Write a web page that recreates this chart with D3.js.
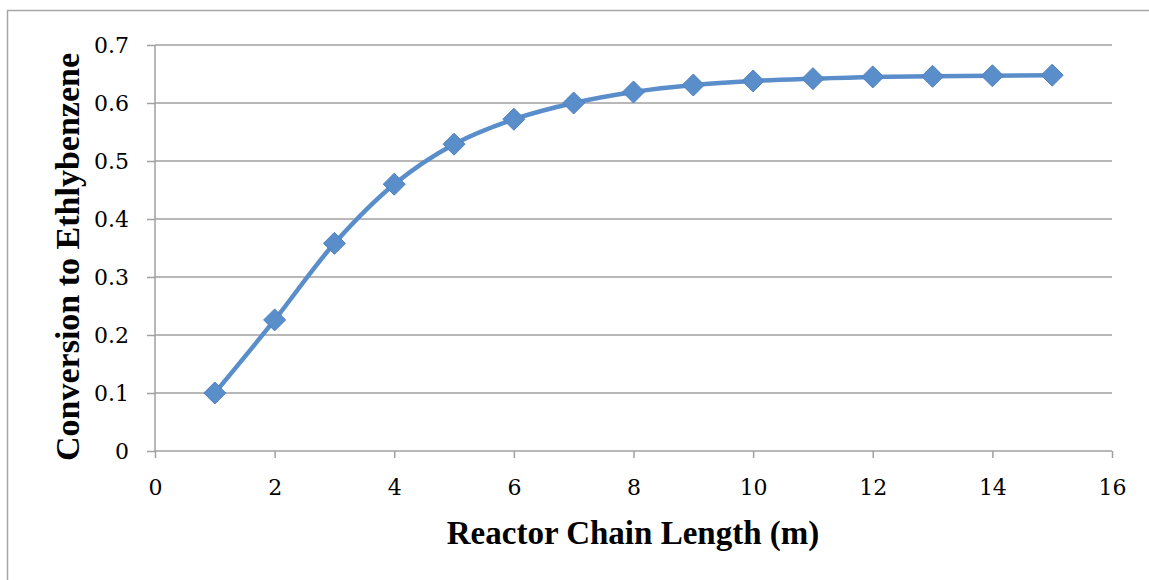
<!DOCTYPE html>
<html>
<head>
<meta charset="utf-8">
<script src="https://cdn.jsdelivr.net/npm/d3@7"></script>
<style>
  body { margin: 0; background: #fff; }
  text { font-family: "Liberation Serif", "DejaVu Serif", serif; }
  .tick text { font-family: "DejaVu Serif", serif; }
</style>
</head>
<body>
<div id="chart"></div>
<script>
"use strict";

// chain length (m)
var lengths = [1, 2, 3, 4, 5, 6, 7, 8, 9, 10, 11, 12, 13, 14, 15];
// conversion to ethylbenzene
var conversion = [0.100, 0.226, 0.358, 0.460, 0.529, 0.572, 0.600, 0.619, 0.631, 0.638, 0.642, 0.645, 0.646, 0.647, 0.648];
var xTicks = [0, 2, 4, 6, 8, 10, 12, 14, 16];
var yTicks = [0, 0.1, 0.2, 0.3, 0.4, 0.5, 0.6, 0.7];

var W = 1149, H = 580;
var margin = {top: 45, right: 37, bottom: 129, left: 155};
var w = W - margin.left - margin.right;
var h = H - margin.top - margin.bottom;

var svg = d3.select("#chart")
    .append("svg")
    .attr("width", W)
    .attr("height", H);

// outer chart border
svg.append("rect")
    .attr("x", 7.5)
    .attr("y", 10.5)
    .attr("width", W + 20)
    .attr("height", H + 20)
    .attr("fill", "none")
    .attr("stroke", "#a6a6a6")
    .attr("stroke-width", 1.5);

var g = svg.append("g")
    .attr("transform", "translate(" + margin.left + "," + margin.top + ")");

var x = d3.scaleLinear().domain([0, 16]).range([0, w]);
var y = d3.scaleLinear().domain([0, 0.7]).range([h, 0]);

// gridlines
g.selectAll("line.grid")
    .data(yTicks.slice(1))
    .enter()
    .append("line")
    .attr("class", "grid")
    .attr("x1", 0)
    .attr("x2", w)
    .attr("y1", function(d) { return y(d); })
    .attr("y2", function(d) { return y(d); })
    .attr("stroke", "#a0a0a0")
    .attr("stroke-width", 1.5);

// y axis
var yAxis = g.append("g")
    .call(d3.axisLeft(y).tickValues(yTicks).tickSize(8).tickPadding(18)
        .tickFormat(function(d) { return d === 0 ? "0" : d3.format(".1f")(d); }));
yAxis.select(".domain").attr("stroke", "#a0a0a0").attr("stroke-width", 1.5)
    .attr("d", "M0," + h + "V0");
yAxis.selectAll(".tick line").attr("stroke", "#a0a0a0").attr("stroke-width", 1.5);
yAxis.selectAll("text").style("font-size", "22px").attr("fill", "#000");

// x axis
var xAxis = g.append("g")
    .attr("transform", "translate(0," + h + ")")
    .call(d3.axisBottom(x).tickValues(xTicks).tickSize(7).tickPadding(21));
xAxis.select(".domain").attr("stroke", "#a0a0a0").attr("stroke-width", 1.5)
    .attr("d", "M0,0H" + w);
xAxis.selectAll(".tick line").attr("stroke", "#a0a0a0").attr("stroke-width", 1.5);
xAxis.selectAll("text").style("font-size", "22px").attr("fill", "#000");

// axis titles
g.append("text")
    .attr("x", 478)
    .attr("y", h + 93)
    .style("text-anchor", "middle")
    .style("font-size", "33px")
    .style("font-weight", "bold")
    .text("Reactor Chain Length (m)");

g.append("text")
    .attr("transform", "rotate(-90)")
    .attr("x", -212)
    .attr("y", -76)
    .style("text-anchor", "middle")
    .style("font-size", "34px")
    .style("font-weight", "bold")
    .text("Conversion to Ethlybenzene");

var points = lengths.map(function(d, i) { return {x: d, y: conversion[i]}; });

// smoothed line
var line = d3.line()
    .x(function(d) { return x(d.x); })
    .y(function(d) { return y(d.y); })
    .curve(d3.curveCatmullRom.alpha(0.5));

g.append("path")
    .datum(points)
    .attr("d", line)
    .attr("fill", "none")
    .attr("stroke", "#5a8ecb")
    .attr("stroke-width", 4.5);

// diamond markers
g.selectAll("path.marker")
    .data(points)
    .enter()
    .append("path")
    .attr("class", "marker")
    .attr("d", "M0,-11L11,0L0,11L-11,0Z")
    .attr("transform", function(d) { return "translate(" + x(d.x) + "," + y(d.y) + ")"; })
    .attr("fill", "#5a8ecb")
    .attr("stroke", "#4f81bd")
    .attr("stroke-width", 1);
</script>
</body>
</html>
